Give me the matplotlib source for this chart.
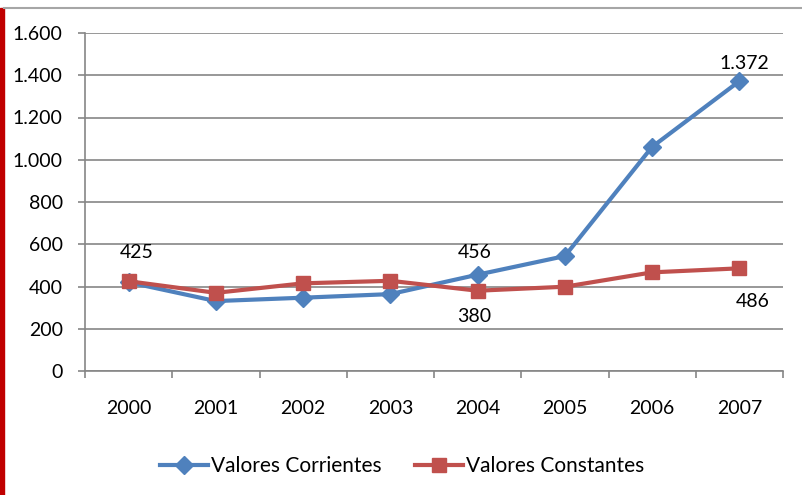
import matplotlib
matplotlib.use("Agg")
import matplotlib.pyplot as plt
from matplotlib.ticker import FixedLocator, FuncFormatter
from matplotlib.patches import Rectangle
from matplotlib.lines import Line2D

years = ["2000", "2001", "2002", "2003", "2004", "2005", "2006", "2007"]
corrientes = [420, 331, 347, 364, 456, 544, 1061, 1372]
constantes = [425, 370, 415, 427, 380, 399, 467, 486]
yticks = [0, 200, 400, 600, 800, 1000, 1200, 1400, 1600]

BLUE = "#4F81BD"
RED = "#C0504D"
GRID = "#868686"
FS = 14

plt.rcParams['font.family'] = ['Lato', 'DejaVu Sans']

fig = plt.figure(figsize=(8.03, 4.95), dpi=100)
ax = fig.add_axes([85/803, 1-371/495, (783-85)/803, (371-33)/495])

x = list(range(len(years)))
ax.plot(x, corrientes, color=BLUE, lw=3, marker="D", ms=9, mec=BLUE, mfc=BLUE,
        label="Valores Corrientes", zorder=3)
ax.plot(x, constantes, color=RED, lw=3, marker="s", ms=10, mec=RED, mfc=RED,
        label="Valores Constantes", zorder=4)

ax.set_xlim(-0.5, len(years) - 0.5)
ax.set_ylim(0, 1600)

def fmt(v, pos=None):
    return f"{int(v):,}".replace(",", ".")

ax.yaxis.set_major_locator(FixedLocator(yticks))
ax.yaxis.set_major_formatter(FuncFormatter(fmt))
ax.set_xticks(x)
ax.set_xticklabels(years)
ax.set_xticks([i - 0.5 for i in range(len(years) + 1)], minor=True)

ax.tick_params(axis="y", which="major", length=5, width=1.2, color=GRID,
               direction="out", pad=11, labelsize=FS, labelcolor="black")
ax.tick_params(axis="x", which="major", length=0, pad=21, labelsize=FS)
ax.tick_params(axis="x", which="minor", length=5, width=1.2, color=GRID, direction="out")

ax.grid(axis="y", color=GRID, lw=1.2)
ax.set_axisbelow(True)
for s in ["top", "right"]:
    ax.spines[s].set_visible(False)
ax.spines["left"].set_color(GRID)
ax.spines["left"].set_linewidth(1.2)
ax.spines["bottom"].set_color(GRID)
ax.spines["bottom"].set_linewidth(1.2)

# data labels
labels = [
    (0, constantes[0], 8, 29),
    (4, corrientes[4], -3, 22),
    (4, constantes[4], -3, -26),
    (7, corrientes[7], 5, 18),
    (7, constantes[7], 13, -33),
]
for xi, v, dx, dy in labels:
    ax.annotate(fmt(v), (xi, v), xytext=(dx, dy), textcoords="offset pixels",
                ha="center", va="center", fontsize=FS, color="black")

# legend
h1 = Line2D([], [], color=BLUE, lw=3, marker="D", ms=9)
h2 = Line2D([], [], color=RED, lw=3, marker="s", ms=10)
fig.legend([h1, h2], ["Valores Corrientes", "Valores Constantes"],
           loc="center", bbox_to_anchor=(402/803, 1-466/495), ncol=2,
           frameon=False, fontsize=15, handlelength=2.3, handletextpad=0.15,
           columnspacing=1.6)

# decorative frame
fig.patches.append(Rectangle((0, 0), 4/803, 1-8/495, transform=fig.transFigure,
                             color="#C00000", zorder=0))
fig.lines.append(Line2D([4/803, 1], [1-8/495, 1-8/495], transform=fig.transFigure,
                        color="#A6A6A6", lw=1.5))

fig.savefig("out.png", dpi=100)
